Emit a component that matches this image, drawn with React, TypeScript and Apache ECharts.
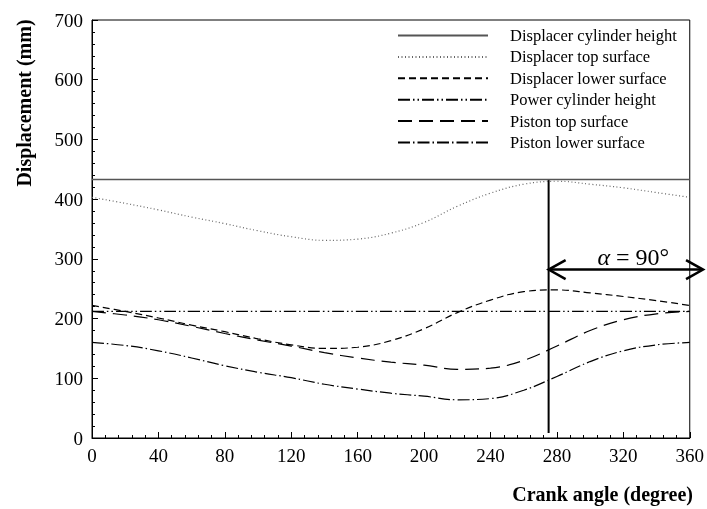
import React, { useEffect, useRef } from "react";
import * as echarts from "echarts";

const angles = [0, 20, 40, 60, 80, 100, 120, 140, 160, 180, 200, 220, 240, 260, 280, 300, 320, 340, 360];
const displacerCylinder = [433, 433, 433, 433, 433, 433, 433, 433, 433, 433, 433, 433, 433, 433, 433, 433, 433, 433, 433];
const displacerTop = [403, 393, 382, 370, 359, 347, 337, 331, 333, 343, 361, 388, 410, 425, 430, 425, 419, 411, 403];
const displacerLower = [222, 212, 201, 189, 178, 166, 156, 150, 152, 163, 183, 210, 231, 245, 248, 243, 237, 230, 222];
const powerCylinder = [212, 212, 212, 212, 212, 212, 212, 212, 212, 212, 212, 212, 212, 212, 212, 212, 212, 212, 212];
const pistonTop = [212, 206, 198, 187, 175, 164, 154, 143, 134, 127, 122, 115, 117, 130, 154, 180, 198, 208, 212];
const pistonLower = [160, 155, 146, 134, 121, 110, 101, 90, 82, 75, 70, 64, 66, 80, 103, 128, 146, 156, 160];

const seriesNames = [
  "Displacer cylinder height",
  "Displacer top surface",
  "Displacer lower surface",
  "Power cylinder height",
  "Piston top surface",
  "Piston lower surface",
];

const xTicks = { min: 0, max: 360, interval: 40 };
const yTicks = { min: 0, max: 700, interval: 100 };

const alphaAngle = 275;
const arrowValue = 282;
const arrowEndAngle = 368;
const alphaLabelPos = [326, 303];

const FONT = "Liberation Serif, Times New Roman, serif";

export default function App() {
  const ref = useRef<HTMLDivElement>(null);
  useEffect(() => {
    const chart = echarts.init(ref.current!, null, { renderer: "svg" });
    const mk = (vals: number[]) => angles.map((a, i) => [a, vals[i]]);
    const styles: any[] = [
      { color: "#555", width: 1.5, type: "solid" },
      { color: "#666", width: 1.2, type: [1, 2.5] },
      { color: "#000", width: 1.2, type: [7, 4] },
      { color: "#000", width: 1.2, type: [12, 3, 1.5, 3, 1.5, 3] },
      { color: "#000", width: 1.2, type: [14, 7] },
      { color: "#000", width: 1.2, type: [12, 3, 1.5, 3] },
    ];
    const datas = [displacerCylinder, displacerTop, displacerLower, powerCylinder, pistonTop, pistonLower];
    chart.setOption({
      animation: false,
      grid: { left: 92, right: 14, top: 20, bottom: 71, show: true, borderColor: "#000", borderWidth: 1 },
      legend: {
        orient: "vertical",
        left: 392,
        top: 22,
        itemWidth: 90,
        itemHeight: 14,
        itemGap: 4.4,
        data: seriesNames,
        itemStyle: { color: "rgba(0,0,0,0)", borderWidth: 0, opacity: 0 },
        textStyle: { fontFamily: FONT, fontSize: 16.5, lineHeight: 14, color: "#000", padding: [0, 0, 0, 17] },
      },
      xAxis: {
        type: "value",
        ...xTicks,
        axisLine: { lineStyle: { color: "#000", width: 1 } },
        axisTick: { inside: true, length: 6, lineStyle: { color: "#000" } },
        minorTick: { show: true, splitNumber: 5, length: 3, lineStyle: { color: "#000" } },
        splitLine: { show: false },
        axisLabel: { fontFamily: FONT, fontSize: 19, color: "#000", margin: 8 },
      },
      yAxis: {
        type: "value",
        ...yTicks,
        axisLine: { show: true, lineStyle: { color: "#000", width: 1 } },
        axisTick: { show: true, inside: true, length: 6, lineStyle: { color: "#000" } },
        minorTick: { show: true, splitNumber: 5, length: 3, lineStyle: { color: "#000" } },
        splitLine: { show: false },
        axisLabel: { fontFamily: FONT, fontSize: 19, color: "#000", margin: 9 },
      },
      series: datas.map((d, i) => ({
        name: seriesNames[i],
        type: "line",
        data: mk(d),
        symbol: "none",
        smooth: 0.4,
        lineStyle: styles[i],
        itemStyle: { color: styles[i].color },
      })),
    });

    const p = (x: number, y: number) => chart.convertToPixel({ gridIndex: 0 }, [x, y]) as number[];
    const top = p(alphaAngle, displacerCylinder[0]);
    const bottom = p(alphaAngle, 0);
    const aL = p(alphaAngle, arrowValue);
    const aR = p(arrowEndAngle, arrowValue);
    const lab = p(alphaLabelPos[0], alphaLabelPos[1]);
    const head = 17, half = 9.5;
    chart.setOption({
      graphic: [
        { type: "line", shape: { x1: top[0], y1: top[1], x2: bottom[0], y2: bottom[1] - 5 }, style: { stroke: "#000", lineWidth: 2 } },
        { type: "line", shape: { x1: aL[0], y1: aL[1], x2: aR[0], y2: aR[1] }, style: { stroke: "#000", lineWidth: 2.5 } },
        { type: "polyline", shape: { points: [[aL[0] + head, aL[1] - half], [aL[0], aL[1]], [aL[0] + head, aL[1] + half]] }, style: { stroke: "#000", lineWidth: 2.5, fill: "none" } },
        { type: "polyline", shape: { points: [[aR[0] - head, aR[1] - half], [aR[0], aR[1]], [aR[0] - head, aR[1] + half]] }, style: { stroke: "#000", lineWidth: 2.5, fill: "none" } },
        {
          type: "text",
          x: lab[0],
          y: lab[1],
          style: {
            text: "{a|α} = 90°",
            rich: { a: { fontStyle: "italic", fontFamily: FONT, fontSize: 24, fill: "#000" } },
            font: `24px ${FONT}`,
            fill: "#000",
            align: "center",
            verticalAlign: "middle",
          },
        },
        {
          type: "text",
          x: 24,
          y: 103,
          rotation: Math.PI / 2,
          style: { text: "Displacement (mm)", font: `bold 20px ${FONT}`, fill: "#000", align: "center", verticalAlign: "middle" },
        },
        {
          type: "text",
          x: 693,
          y: 494,
          style: { text: "Crank angle (degree)", font: `bold 20px ${FONT}`, fill: "#000", align: "right", verticalAlign: "middle" },
        },
      ],
    });
    return () => chart.dispose();
  }, []);
  return <div ref={ref} style={{ position: "fixed", left: 0, top: 0, width: 707, height: 509 }} />;
}
